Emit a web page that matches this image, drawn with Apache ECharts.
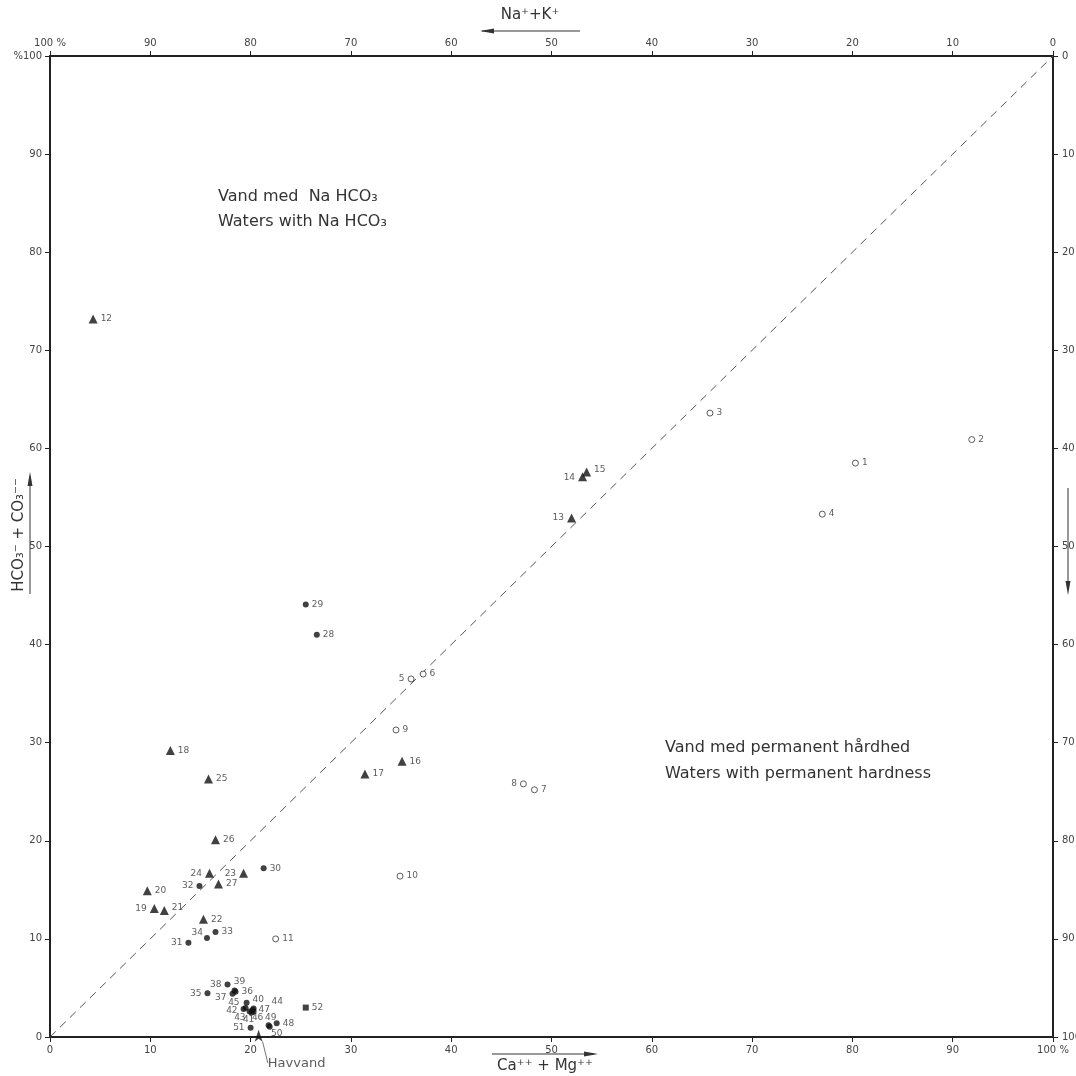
<!DOCTYPE html>
<html>
<head>
<meta charset="utf-8">
<script src="https://cdn.jsdelivr.net/npm/echarts@6/dist/echarts.min.js"></script>
<style>
  html, body {margin: 0; padding: 0; background: #fff;}
  #chart {width: 1076px; height: 1076px;}
</style>
</head>
<body>
<div id="chart"></div>
<script>
// open circles 1-11
const openIds = [1, 2, 3, 4, 5, 6, 7, 8, 9, 10, 11]
const openX = [80.3, 91.9, 65.8, 77.0, 36.0, 37.2, 48.3, 47.2, 34.5, 34.9, 22.5]
const openY = [58.5, 60.9, 63.6, 53.3, 36.5, 37.0, 25.2, 25.8, 31.3, 16.4, 10.0]

// filled triangles 12-27
const triIds = [12, 13, 14, 15, 16, 17, 18, 19, 20, 21, 22, 23, 24, 25, 26, 27]
const triX = [4.3, 52.0, 53.1, 53.5, 35.1, 31.4, 12.0, 10.4, 9.7, 11.4, 15.3, 19.3, 15.9, 15.8, 16.5, 16.8]
const triY = [73.2, 52.9, 57.1, 57.6, 28.1, 26.8, 29.2, 13.1, 14.9, 12.9, 12.0, 16.7, 16.7, 26.3, 20.1, 15.6]

// filled dots 28-51
const dotIds = [28, 29, 30, 31, 32, 33, 34, 35, 36, 37, 38, 39, 40, 41, 42, 43, 44, 45, 46, 47, 48, 49, 50, 51]
const dotX = [26.6, 25.5, 21.3, 13.8, 14.9, 16.5, 15.65, 15.7, 18.5, 18.2, 17.7, 18.4, 19.6, 20.1, 19.3, 19.9, 20.3, 19.5, 20.3, 20.2, 22.6, 21.8, 21.9, 20.0]
const dotY = [41.0, 44.1, 17.2, 9.6, 15.4, 10.7, 10.1, 4.45, 4.6, 4.4, 5.35, 4.75, 3.5, 2.5, 2.85, 2.6, 2.9, 2.95, 2.6, 2.75, 1.4, 1.2, 1.05, 0.95]

// square 52
const sqIds = [52]
const sqX = [25.5]
const sqY = [3.0]

// sea water
const seaX = [20.8]
const seaY = [0.75]

const diagonal = [[0, 0], [100, 100]]

// label placement per point number
const labelSpots = {
  5: ['left', 0, 0], 8: ['left', 0, 0], 13: ['left', 0, 0], 14: ['left', 0, 1], 15: ['right', 0, -2],
  19: ['left', 0, 0], 21: ['right', 0, -3], 23: ['left', 0, 0], 24: ['left', 0, 0],
  31: ['left', 0, 0], 32: ['left', 0, 0], 34: ['left', 2, -5], 35: ['left', 0, 0],
  37: ['left', 0, 4], 38: ['left', 0, 0], 39: ['top', 5, 2], 40: ['right', 0, -3],
  41: ['bottom', -3, -3], 42: ['left', 0, 2], 43: ['left', 2, 6], 44: ['right', 12, -7],
  45: ['left', 0, -5], 46: ['bottom', 4, -4], 47: ['right', 0, 0], 49: ['top', 2, 3],
  50: ['bottom', 7, -4], 51: ['left', 0, 0]
}

function pts (ids, xs, ys) {
  return ids.map((id, i) => {
    const s = labelSpots[id] || ['right', 0, 0]
    return {
      value: [xs[i], ys[i], id],
      label: {position: s[0], offset: [s[1], s[2]]}
    }
  })
}

const font = 'DejaVu Sans'
const ink = '#222'

const pointLabel = {
  show: true,
  formatter: p => p.value[2],
  fontFamily: font,
  fontSize: 9,
  color: '#333',
  distance: 3
}

function tickLabel (margin, top) {
  return {
    fontFamily: font,
    fontSize: 10,
    color: '#444',
    margin: margin,
    formatter: v => v === 100 ? top : v
  }
}

function axisBase (extra) {
  return Object.assign({
    type: 'value',
    min: 0,
    max: 100,
    interval: 10,
    splitLine: {show: false},
    axisLine: {show: true, onZero: false, lineStyle: {color: ink, width: 2}},
    axisTick: {show: true, length: 5, lineStyle: {color: ink, width: 1}}
  }, extra)
}

const chart = echarts.init(document.getElementById('chart'))

chart.setOption({
  animation: false,
  backgroundColor: '#fff',
  grid: {left: 50, right: 23, top: 56, bottom: 39, containLabel: false, outerBoundsMode: 'none'},
  xAxis: [
    axisBase({position: 'bottom', axisLabel: tickLabel(8, '100 %')}),
    axisBase({position: 'top', inverse: true, axisLabel: tickLabel(8, '100 %')})
  ],
  yAxis: [
    axisBase({position: 'left', axisLabel: tickLabel(8, '%100')}),
    axisBase({position: 'right', inverse: true, axisLabel: tickLabel(9, '100 %')})
  ],
  series: [
    {
      type: 'line',
      data: diagonal,
      symbol: 'none',
      silent: true,
      lineStyle: {color: '#555', width: 1, type: [8, 6]},
      z: 1
    },
    {
      type: 'scatter',
      data: pts(openIds, openX, openY),
      symbol: 'circle',
      symbolSize: 6,
      itemStyle: {color: '#fff', borderColor: '#333', borderWidth: 1},
      label: pointLabel
    },
    {
      type: 'scatter',
      data: pts(triIds, triX, triY),
      symbol: 'triangle',
      symbolSize: 9,
      itemStyle: {color: '#111'},
      label: pointLabel
    },
    {
      type: 'scatter',
      data: pts(dotIds, dotX, dotY),
      symbol: 'circle',
      symbolSize: 6,
      itemStyle: {color: '#111'},
      label: pointLabel
    },
    {
      type: 'scatter',
      data: pts(sqIds, sqX, sqY),
      symbol: 'rect',
      symbolSize: 6,
      itemStyle: {color: '#111'},
      label: pointLabel
    },
    {
      type: 'scatter',
      data: seaX.map((x, i) => [x, seaY[i]]),
      symbol: 'arrow',
      symbolSize: [6, 12],
      itemStyle: {color: '#111'},
      label: {
        show: true,
        position: 'bottom',
        formatter: 'Havvand',
        fontFamily: font,
        fontSize: 13,
        color: '#333'
      },
      labelLayout: {dx: 38, dy: 10},
      labelLine: {show: true, lineStyle: {color: '#777', width: 1}}
    }
  ],
  graphic: [
    {type: 'text', x: 218, y: 197, style: {text: 'Vand med  Na HCO₃', font: '16px "DejaVu Sans"', fill: '#333', textVerticalAlign: 'middle'}},
    {type: 'text', x: 218, y: 222, style: {text: 'Waters with Na HCO₃', font: '16px "DejaVu Sans"', fill: '#333', textVerticalAlign: 'middle'}},
    {type: 'text', x: 665, y: 748, style: {text: 'Vand med permanent hårdhed', font: '16px "DejaVu Sans"', fill: '#333', textVerticalAlign: 'middle'}},
    {type: 'text', x: 665, y: 774, style: {text: 'Waters with permanent hardness', font: '16px "DejaVu Sans"', fill: '#333', textVerticalAlign: 'middle'}},
    // top title
    {type: 'text', x: 530, y: 15, style: {text: 'Na⁺+K⁺', font: '15px "DejaVu Sans"', fill: '#333', textAlign: 'center', textVerticalAlign: 'middle'}},
    {type: 'line', shape: {x1: 482, y1: 31, x2: 580, y2: 31}, style: {stroke: '#333', lineWidth: 1}},
    {type: 'polygon', shape: {points: [[480, 31], [494, 28.5], [494, 33.5]]}, style: {fill: '#333'}},
    // bottom title
    {type: 'text', x: 545, y: 1066, style: {text: 'Ca⁺⁺ + Mg⁺⁺', font: '15px "DejaVu Sans"', fill: '#333', textAlign: 'center', textVerticalAlign: 'middle'}},
    {type: 'line', shape: {x1: 492, y1: 1054, x2: 594, y2: 1054}, style: {stroke: '#333', lineWidth: 1}},
    {type: 'polygon', shape: {points: [[598, 1054], [584, 1051.5], [584, 1056.5]]}, style: {fill: '#333'}},
    // left title
    {type: 'text', x: 19, y: 535, rotation: Math.PI / 2, style: {text: 'HCO₃⁻ + CO₃⁻⁻', font: '15px "DejaVu Sans"', fill: '#333', textAlign: 'center', textVerticalAlign: 'middle'}},
    {type: 'line', shape: {x1: 30, y1: 476, x2: 30, y2: 594}, style: {stroke: '#333', lineWidth: 1}},
    {type: 'polygon', shape: {points: [[30, 472], [27.5, 486], [32.5, 486]]}, style: {fill: '#333'}},
    // right title (cut off at the page edge)
    {type: 'text', x: 1081, y: 545, rotation: -Math.PI / 2, style: {text: 'Cl⁻ + SO₄⁻⁻', font: '15px "DejaVu Sans"', fill: '#333', textAlign: 'center', textVerticalAlign: 'middle'}},
    {type: 'line', shape: {x1: 1068, y1: 488, x2: 1068, y2: 590}, style: {stroke: '#333', lineWidth: 1}},
    {type: 'polygon', shape: {points: [[1068, 595], [1065.5, 581], [1070.5, 581]]}, style: {fill: '#333'}}
  ]
})
</script>
</body>
</html>
